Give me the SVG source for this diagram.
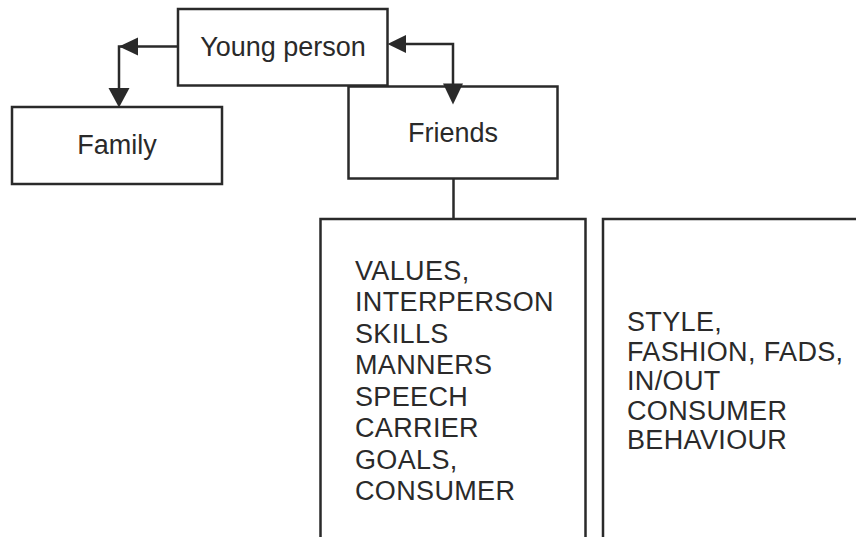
<svg xmlns="http://www.w3.org/2000/svg" width="856" height="537" viewBox="0 0 856 537">
<style>
.box{fill:#fff;stroke:#2a2a2a;stroke-width:2.5}
.t{font-family:"Liberation Sans",Arial,sans-serif;font-size:27px;fill:#2a2a2a}
.l{letter-spacing:0.35px}
.c{fill:none;stroke:#2a2a2a;stroke-width:2.5}
.h{fill:#2a2a2a}
</style>
<rect width="856" height="537" fill="#fff"/>
<g id="family"><rect class="box" x="12" y="107" width="210" height="77"/><text class="t" x="117" y="154" text-anchor="middle">Family</text></g>
<g id="friends"><rect class="box" x="348.5" y="86.5" width="209" height="92"/><text class="t" x="453" y="142" text-anchor="middle">Friends</text></g>
<g id="young-person"><rect class="box" x="178" y="9" width="209.5" height="76.5"/><text class="t" x="283" y="56" text-anchor="middle">Young person</text></g>
<g id="values"><path class="box" d="M320.5,540 V219 H585.5 V540"/>
<text class="t l"><tspan x="355" y="279.5">VALUES,</tspan><tspan x="355" y="311">INTERPERSON</tspan><tspan x="355" y="342.5">SKILLS</tspan><tspan x="355" y="374">MANNERS</tspan><tspan x="355" y="405.5">SPEECH</tspan><tspan x="355" y="437">CARRIER</tspan><tspan x="355" y="468.5">GOALS,</tspan><tspan x="355" y="500">CONSUMER</tspan></text></g>
<g id="style"><path class="box" d="M603,540 V219 H860"/>
<text class="t l"><tspan x="627" y="331">STYLE,</tspan><tspan x="627" y="360.5">FASHION, FADS,</tspan><tspan x="627" y="390">IN/OUT</tspan><tspan x="627" y="419.5">CONSUMER</tspan><tspan x="627" y="449">BEHAVIOUR</tspan></text></g>
<g id="connectors">
<path class="c" d="M178,46.5 H119 V90"/>
<polygon class="h" points="119,46.5 138,37.5 138,55.5"/>
<polygon class="h" points="119,107.5 108.5,88 129.5,88"/>
<path class="c" d="M404,44 H453 V86"/>
<polygon class="h" points="387.5,44 406,35 406,53"/>
<polygon class="h" points="453,104.5 443,83.5 463,83.5"/>
<path class="c" d="M453.5,178.5 V219"/>
</g>
</svg>
